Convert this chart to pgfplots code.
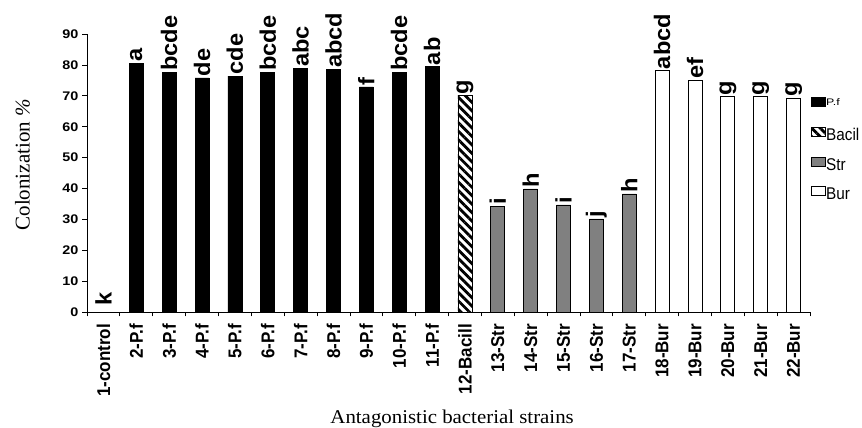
\documentclass[border=0pt]{standalone}
\usepackage{fontspec}
\setmainfont{Liberation Serif}
\newfontfamily\yfont{Liberation Sans}[FakeStretch=1.15]
\newfontfamily\xfont{Liberation Sans}[FakeStretch=0.92]
\newfontfamily\letfont{Liberation Sans}[FakeStretch=1.05]
\newfontfamily\legfont{Liberation Sans}[FakeStretch=0.9]
\newfontfamily\legPfont{Liberation Sans}[FakeStretch=1.3]
\newfontfamily\xlabfont{Liberation Serif}[FakeStretch=1.07]
\usepackage{pgfplots}
\usepackage{pgfplotstable}
\pgfplotsset{compat=1.18}
\usetikzlibrary{patterns.meta}
\definecolor{strgray}{HTML}{808080}

\pgfplotstableread{
x y lab
0 1.6 k
1 80.6 a
2 77.5 bcde
3 75.8 de
4 76.4 cde
5 77.5 bcde
6 78.9 abc
7 78.5 abcd
8 72.9 f
9 77.5 bcde
10 79.4 ab
11 70.0 g
12 34.3 i
13 39.9 h
14 34.7 i
15 30.2 j
16 38.3 h
17 78.1 abcd
18 75.0 ef
19 69.7 g
20 69.7 g
21 69.3 g
}\labtable

\newcommand{\legstrut}{\rule[-3.5pt]{0pt}{15.5pt}}

\begin{document}
\begin{tikzpicture}
\begin{axis}[name=ax,
  scale only axis, width=723pt, height=278.3pt,
  xmin=-0.5, xmax=21.5, ymin=0, ymax=90,
  axis lines*=left,
  axis line style={black, line width=0.8pt},
  clip=false,
  ytick={0,10,...,90},
  xtick={0,...,21},
  xticklabels={1-control,2-P.f,3-P.f,4-P.f,5-P.f,6-P.f,7-P.f,8-P.f,9-P.f,10-P.f,11-P.f,12-Bacill,13-Str,14-Str,15-Str,16-Str,17-Str,18-Bur,19-Bur,20-Bur,21-Bur,22-Bur},
  minor xtick={-0.5,0.5,...,21.5},
  major x tick style={draw=none},
  minor x tick style={black, line width=0.8pt},
  ytick style={black, line width=0.8pt},
  tick align=outside, major tick length=4.5pt, minor tick length=4pt,
  /pgf/number format/assume math mode=true,
  yticklabel style={font=\yfont\bfseries\fontsize{12.5}{12.5}\selectfont, inner sep=0pt, xshift=-4pt},
  xticklabel style={rotate=90, anchor=east, font=\xfont\bfseries\fontsize{18.5}{18.5}\selectfont, inner sep=0pt, xshift=-7pt},
  xlabel={\xlabfont\fontsize{19.5}{19.5}\selectfont Antagonistic bacterial strains},
  xlabel style={at={(axis description cs:0.505,-0.398)}, anchor=base, inner sep=0pt},
  ylabel={\fontsize{21}{21}\selectfont Colonization \textit{\%}},
  ylabel style={at={(axis description cs:-0.0892,0.53)}, anchor=center, inner sep=0pt},
  legend style={at={(axis description cs:1.0014,0.7725)}, anchor=north west, draw=none, fill=none,
    inner sep=0pt, outer sep=0pt, row sep=13.2pt,
    nodes={inner sep=1pt},
    font=\legfont\fontsize{17}{17}\selectfont,
    /tikz/every even column/.append style={column sep=0pt}},
  legend cell align=left,
  legend image code/.code={\draw[#1] (0pt,-1pt) rectangle (13.5pt,8pt);},
]
\addplot[ybar, bar width=14pt, draw=black, line width=0.7pt, fill=black] coordinates {
 (1,80.6) (2,77.5) (3,75.8) (4,76.4) (5,77.5) (6,78.9) (7,78.5) (8,72.9) (9,77.5) (10,79.4)};
\addplot[ybar, bar width=14pt, draw=black, line width=0.7pt, pattern={Lines[angle=-45,distance=6pt,line width=2.8pt]}, pattern color=black] coordinates {(11,70.0)};
\addplot[ybar, bar width=14pt, draw=black, line width=0.7pt, fill=strgray] coordinates {
 (12,34.3) (13,39.9) (14,34.7) (15,30.2) (16,38.3)};
\addplot[ybar, bar width=14pt, draw=black, line width=0.7pt, fill=white] coordinates {
 (17,78.1) (18,75.0) (19,69.7) (20,69.7) (21,69.3)};
\addplot[draw=none, mark=none, forget plot, nodes near coords, point meta=explicit symbolic,
  nodes near coords style={rotate=90, anchor=west, inner sep=1.5pt, font=\letfont\bfseries\fontsize{22.5}{22.5}\selectfont}]
  table[x=x, y=y, meta=lab] {\labtable};
\legend{{\legstrut\legPfont\fontsize{9.5}{9.5}\selectfont\raisebox{6pt}{P.f}},{\legstrut Bacil},{\legstrut Str},{\legstrut Bur}}
\end{axis}
\pgfresetboundingbox
\path[use as bounding box] ([xshift=-87pt,yshift=-115.7pt]ax.south west) rectangle ([xshift=775pt,yshift=312.3pt]ax.south west);
\end{tikzpicture}
\end{document}
